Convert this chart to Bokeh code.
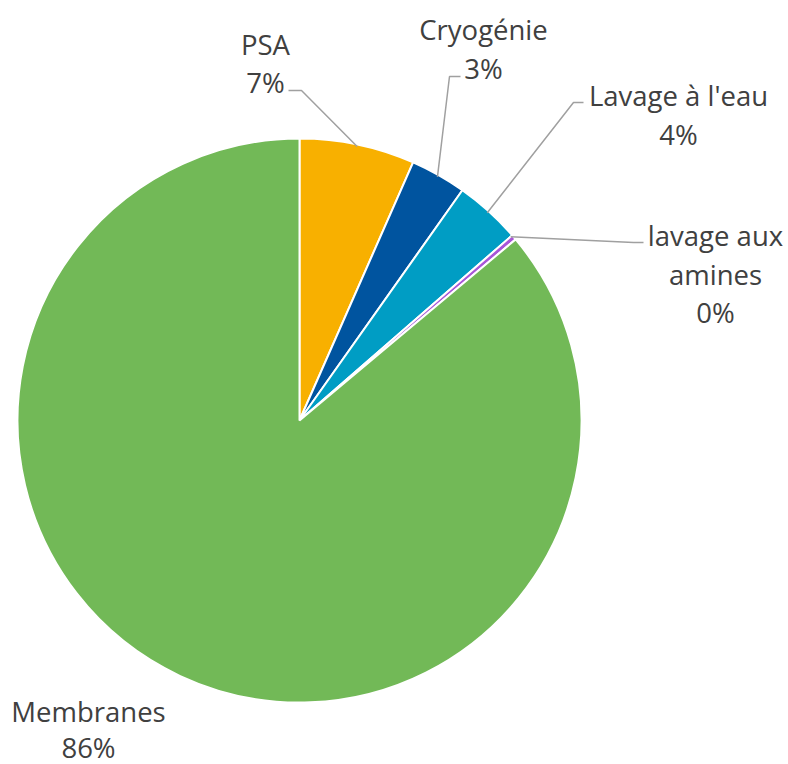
import math
from bokeh.plotting import figure
from bokeh.models import Range1d, ColumnDataSource
from bokeh.core.properties import value
from bokeh.embed import file_html
from bokeh.resources import INLINE

# ---- data ----
categories = ["PSA", "Cryogénie", "Lavage à l'eau", "lavage aux amines", "Membranes"]
label_lines = [["PSA"], ["Cryogénie"], ["Lavage à l'eau"], ["lavage aux", "amines"], ["Membranes"]]
shares = [6.6, 3.2, 3.8, 0.3, 86.1]
colors = ["#F8B000", "#00549F", "#009DC4", "#A855D8", "#72B957"]

W, H = 788, 764
FONT = "Open Sans"
TXT = "#404040"
TEXT_SHIFT = 8

def X(rx):
    return rx

def Y(ry):
    return H - ry

p = figure(width=W, height=H, output_backend="svg", toolbar_location=None,
           x_range=Range1d(0, W), y_range=Range1d(0, H), min_border=0)
p.axis.visible = False
p.grid.visible = False
p.outline_line_color = None
p.background_fill_color = "white"
p.border_fill_color = "white"

cx, cy, r = X(299), Y(420), 282
total = sum(shares)
starts, ends = [], []
cum = 0.0
for s in shares:
    a0 = math.pi / 2 - 2 * math.pi * cum / total
    cum += s
    a1 = math.pi / 2 - 2 * math.pi * cum / total
    starts.append(a0)
    ends.append(a1)

src = ColumnDataSource(dict(start=starts, end=ends, color=colors, cat=categories))
p.wedge(x=cx, y=cy, radius=r, start_angle="start", end_angle="end", direction="clock",
        fill_color="color", line_color="white", line_width=2, source=src)

# leader lines: start on arc at slice mid angle, then elbow + horizontal (layout)
elbows = {
    "PSA": [(301, 90), (288, 90)],
    "Cryogénie": [(449, 76), (460, 76)],
    "Lavage à l'eau": [(573, 102), (583, 102)],
    "lavage aux amines": [(633, 242), (643, 242)],
}
for i, cat in enumerate(categories):
    if cat not in elbows:
        continue
    mid = (starts[i] + ends[i]) / 2
    if cat == "lavage aux amines":
        mid = starts[i]
    sx = cx + (r - 2) * math.cos(mid)
    sy = cy + (r - 2) * math.sin(mid)
    xs = [sx] + [X(e[0]) for e in elbows[cat]]
    ys = [sy] + [Y(e[1]) for e in elbows[cat]]
    p.line(xs, ys, line_color="#A0A0A0", line_width=1.5)

# labels (layout positions: center x, baselines)
label_pos = {
    "PSA": (265, [52, 90]),
    "Cryogénie": (483, [37, 76]),
    "Lavage à l'eau": (678, [103, 142]),
    "lavage aux amines": (715, [243, 282, 320]),
    "Membranes": (88, [719, 755]),
}
tx, ty, tt = [], [], []
for i, cat in enumerate(categories):
    lx, bls = label_pos[cat]
    lines = label_lines[i] + ["%d%%" % math.floor(shares[i] / total * 100 + 0.5)]
    for line, bl in zip(lines, bls):
        tx.append(X(lx))
        ty.append(Y(bl - TEXT_SHIFT))
        tt.append(line)

p.text(x=tx, y=ty, text=tt, text_align="center", text_baseline="alphabetic",
       text_font=value(FONT), text_font_size="27.5px", text_color=TXT)

open("out.html", "w").write(file_html(p, INLINE))
